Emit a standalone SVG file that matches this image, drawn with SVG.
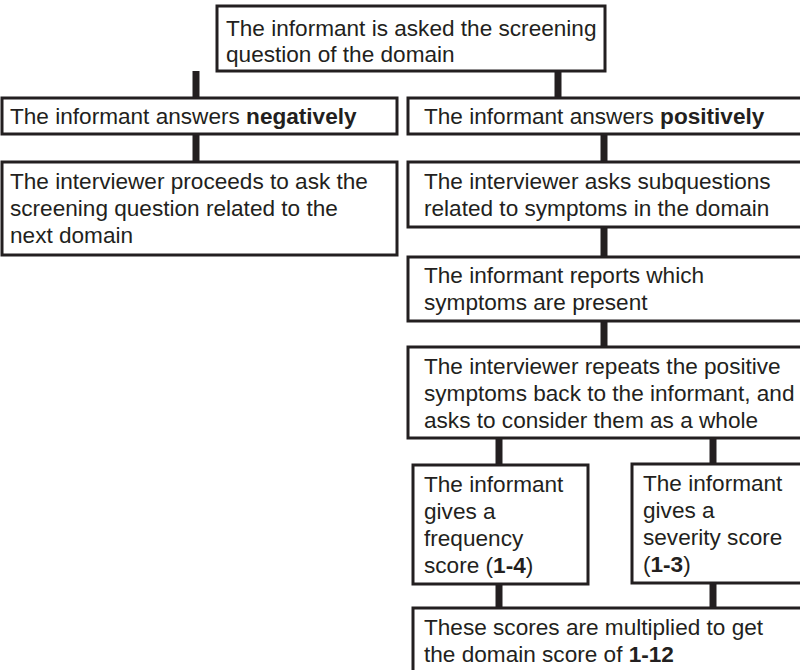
<svg xmlns="http://www.w3.org/2000/svg" width="800" height="670" viewBox="0 0 800 670">
<style>
.box{fill:#fff;stroke:#231f20;stroke-width:3}
.con{stroke:#231f20;stroke-width:7;fill:none}
text{font-family:"Liberation Sans",Arial,sans-serif;font-size:22.6px;fill:#231f20}
.b{font-weight:bold}
</style>
<rect width="800" height="670" fill="#fff"/>
<g id="connectors">
<line class="con" x1="196" y1="71" x2="196" y2="98"/>
<line class="con" x1="558" y1="71" x2="558" y2="98"/>
<line class="con" x1="196" y1="134" x2="196" y2="162"/>
<line class="con" x1="604" y1="134" x2="604" y2="162"/>
<line class="con" x1="604" y1="227" x2="604" y2="257"/>
<line class="con" x1="604" y1="321" x2="604" y2="347"/>
<line class="con" x1="499" y1="438" x2="499" y2="465"/>
<line class="con" x1="713" y1="438" x2="713" y2="464"/>
<line class="con" x1="499" y1="584" x2="499" y2="608"/>
<line class="con" x1="713" y1="583" x2="713" y2="608"/>
</g>
<g id="n1">
<rect class="box" x="217" y="6" width="388" height="65"/>
<text x="226" y="36">The informant is asked the screening</text>
<text x="226" y="62">question of the domain</text>
</g>
<g id="n2">
<rect class="box" x="2" y="98" width="395" height="36"/>
<text x="10" y="124">The informant answers <tspan class="b">negatively</tspan></text>
</g>
<g id="n3">
<rect class="box" x="408" y="98" width="396" height="36"/>
<text x="424" y="124">The informant answers <tspan class="b">positively</tspan></text>
</g>
<g id="n4">
<rect class="box" x="2" y="162" width="395" height="93"/>
<text x="10" y="189">The interviewer proceeds to ask the</text>
<text x="10" y="216">screening question related to the</text>
<text x="10" y="243">next domain</text>
</g>
<g id="n5">
<rect class="box" x="408" y="162" width="396" height="65"/>
<text x="424" y="189">The interviewer asks subquestions</text>
<text x="424" y="216">related to symptoms in the domain</text>
</g>
<g id="n6">
<rect class="box" x="408" y="257" width="396" height="64"/>
<text x="424" y="283">The informant reports which</text>
<text x="424" y="310">symptoms are present</text>
</g>
<g id="n7">
<rect class="box" x="408" y="347" width="396" height="91"/>
<text x="424" y="374">The interviewer repeats the positive</text>
<text x="424" y="401">symptoms back to the informant, and</text>
<text x="424" y="428">asks to consider them as a whole</text>
</g>
<g id="n8">
<rect class="box" x="413" y="465" width="175" height="119"/>
<text x="424" y="492">The informant</text>
<text x="424" y="519">gives a</text>
<text x="424" y="546">frequency</text>
<text x="424" y="573">score (<tspan class="b">1-4</tspan>)</text>
</g>
<g id="n9">
<rect class="box" x="632" y="464" width="172" height="119"/>
<text x="643" y="491">The informant</text>
<text x="643" y="518">gives a</text>
<text x="643" y="545">severity score</text>
<text x="643" y="572">(<tspan class="b">1-3</tspan>)</text>
</g>
<g id="n10">
<rect class="box" x="413" y="608" width="391" height="70"/>
<text x="424" y="635">These scores are multiplied to get</text>
<text x="424" y="662">the domain score of <tspan class="b">1-12</tspan></text>
</g>
</svg>
